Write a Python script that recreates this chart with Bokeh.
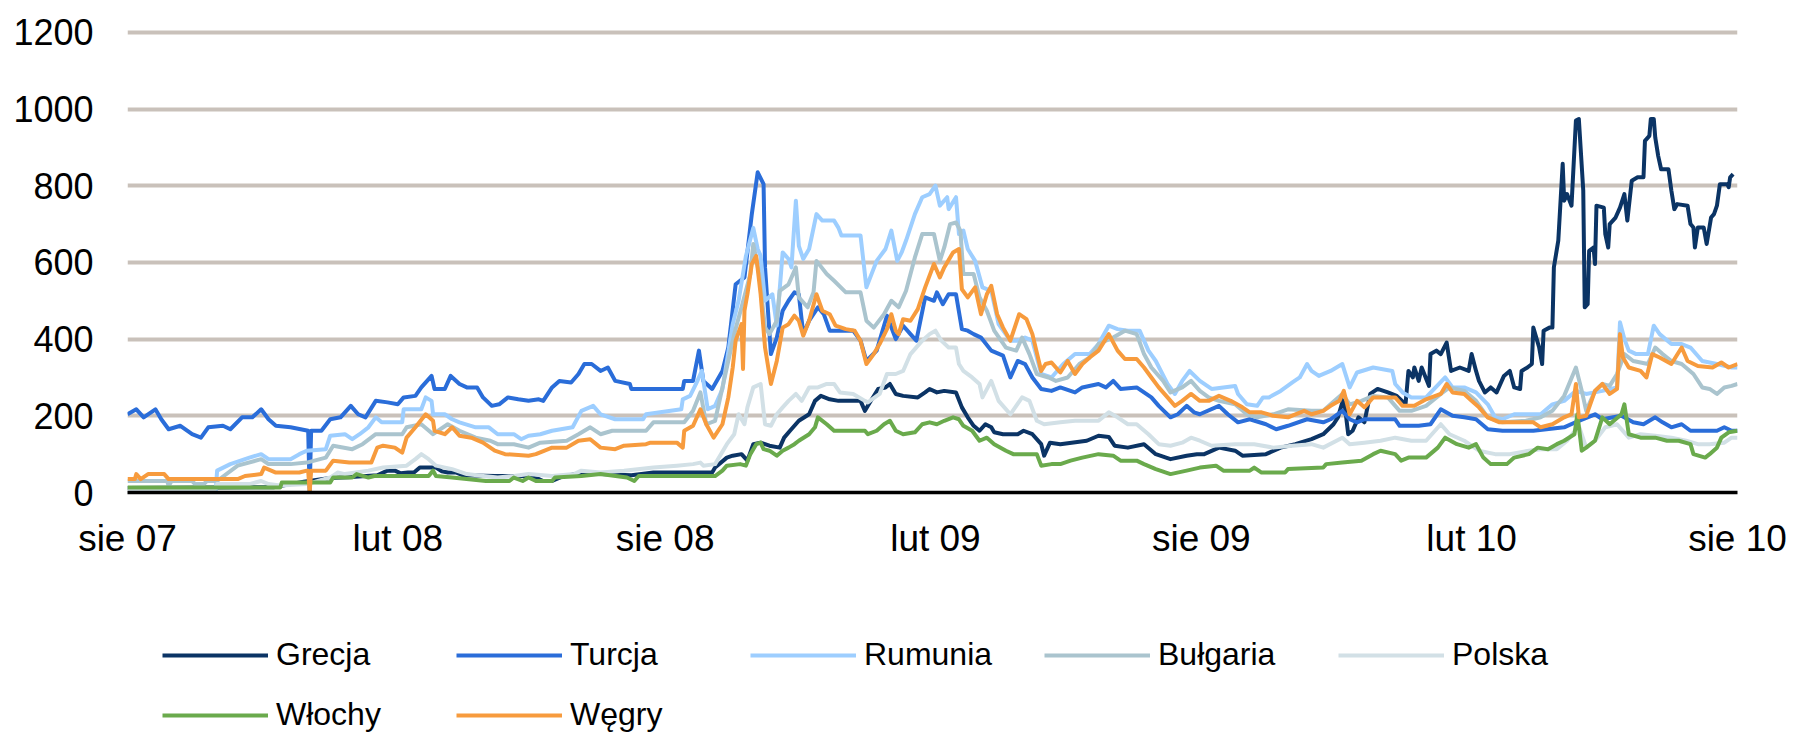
import numpy as np
import pandas as pd
from bokeh.plotting import figure
from bokeh.layouts import column
from bokeh.models import Range1d, FixedTicker, Legend, LegendItem
from bokeh.embed import file_html
from bokeh.resources import INLINE

# ---------------- data ----------------
START = "2007-08-01"
END = "2010-08-01"

tick_dates = ["2007-08-01", "2008-02-01", "2008-08-01", "2009-02-01",
              "2009-08-01", "2010-02-01", "2010-08-01"]
tick_labels = ["sie 07", "lut 08", "sie 08", "lut 09", "sie 09", "lut 10", "sie 10"]
y_ticks = [0, 200, 400, 600, 800, 1000, 1200]

series_names = ["Grecja", "Turcja", "Rumunia", "Bułgaria", "Polska", "Włochy", "Węgry"]
series_colors = ["#0B3465", "#2A6DD9", "#9DCEFF", "#AAC4CE", "#D2E0E6", "#6AAA4C", "#F79B3D"]

# (days since 2007-08-01, spread in bp)
grecja = [(0, 12), (100, 14), (120, 28), (138, 38), (150, 40), (170, 45), (177, 57), (182, 57),
          (186, 50), (191, 52), (195, 52), (199, 65), (210, 65), (214, 55), (218, 52), (224, 52),
          (228, 45), (250, 43), (270, 43), (280, 35), (283, 30), (289, 30), (295, 40), (304, 48),
          (322, 48), (343, 45), (358, 52), (371, 52), (398, 52), (400, 65), (408, 91), (412, 96),
          (418, 100), (422, 83), (426, 126), (431, 130), (437, 122), (444, 117), (447, 143),
          (451, 161), (457, 187), (464, 204), (468, 239), (472, 252), (478, 243), (484, 239),
          (499, 239), (502, 213), (504, 226), (511, 270), (516, 274), (519, 283), (523, 257),
          (528, 252), (538, 248), (543, 261), (546, 270), (551, 261), (556, 265), (564, 261),
          (568, 222), (572, 196), (576, 174), (580, 161), (584, 178), (588, 170), (590, 157),
          (596, 152), (606, 152), (610, 161), (616, 152), (622, 126), (624, 96), (628, 130),
          (635, 126), (653, 135), (661, 148), (668, 145), (672, 122), (681, 117), (692, 126),
          (700, 100), (710, 87), (721, 96), (728, 100), (733, 100), (743, 117), (754, 109),
          (759, 96), (775, 100), (785, 117), (795, 126), (806, 139), (814, 152), (821, 178),
          (824, 196), (828, 248), (831, 152), (834, 161), (838, 196), (842, 183), (846, 257),
          (851, 270), (858, 261), (864, 252), (870, 230), (872, 317), (875, 300), (876, 326),
          (879, 291), (881, 326), (886, 278), (887, 361), (891, 370), (894, 361), (898, 391),
          (901, 317), (907, 326), (913, 317), (915, 361), (918, 317), (920, 291), (924, 261),
          (928, 274), (932, 261), (937, 304), (941, 317), (944, 274), (948, 270), (949, 317),
          (953, 326), (956, 335), (957, 430), (961, 378), (963, 335), (964, 422), (968, 430),
          (970, 430), (971, 587), (974, 657), (977, 857), (978, 761), (980, 778), (983, 748),
          (986, 970), (988, 974), (991, 787), (992, 483), (994, 491), (995, 630), (998, 639),
          (999, 596), (1000, 748), (1005, 743), (1006, 674), (1008, 639), (1009, 700),
          (1013, 717), (1016, 743), (1019, 778), (1021, 709), (1024, 813), (1028, 822),
          (1032, 822), (1033, 917), (1036, 930), (1037, 974), (1039, 974), (1040, 926),
          (1042, 878), (1044, 843), (1049, 843), (1051, 787), (1053, 739), (1055, 752),
          (1062, 748), (1064, 700), (1066, 691), (1067, 639), (1069, 691), (1073, 691),
          (1075, 648), (1078, 717), (1080, 726), (1082, 748), (1084, 804), (1089, 804),
          (1090, 796), (1091, 822), (1093, 830)]

turcja = [(0, 204), (6, 217), (11, 196), (19, 217), (23, 191), (28, 165), (36, 174), (44, 152),
          (50, 143), (55, 170), (65, 174), (70, 165), (78, 196), (85, 196), (91, 217), (96, 191),
          (101, 174), (111, 170), (123, 161), (124, 0), (125, 161), (132, 161), (138, 191),
          (145, 196), (152, 226), (157, 204), (162, 196), (169, 239), (177, 235), (184, 230),
          (188, 248), (196, 252), (200, 274), (207, 304), (209, 270), (216, 270), (220, 304),
          (226, 283), (231, 274), (238, 274), (242, 248), (248, 226), (253, 230), (259, 248),
          (266, 243), (273, 239), (280, 243), (283, 239), (289, 274), (294, 291), (302, 287),
          (307, 309), (311, 335), (316, 335), (322, 317), (327, 326), (332, 291), (342, 283),
          (343, 270), (361, 270), (378, 270), (379, 291), (385, 291), (389, 370), (392, 291),
          (398, 270), (405, 317), (409, 378), (414, 543), (420, 561), (425, 726), (429, 835),
          (433, 804), (434, 587), (438, 361), (442, 404), (446, 474), (450, 500), (454, 522),
          (457, 517), (460, 413), (464, 448), (470, 483), (474, 465), (478, 422), (494, 422),
          (499, 396), (503, 343), (510, 370), (517, 461), (523, 400), (528, 435), (533, 413),
          (537, 396), (543, 509), (549, 500), (551, 522), (555, 491), (559, 517), (564, 517),
          (568, 426), (572, 422), (576, 413), (581, 404), (588, 370), (596, 357), (601, 300),
          (606, 343), (611, 335), (616, 300), (622, 270), (629, 265), (635, 274), (645, 261),
          (650, 274), (661, 283), (666, 274), (671, 291), (676, 270), (687, 274), (692, 261),
          (697, 248), (702, 226), (710, 196), (715, 204), (721, 226), (726, 209), (730, 204),
          (743, 226), (749, 204), (756, 183), (764, 191), (775, 178), (782, 165), (790, 174),
          (803, 191), (814, 183), (819, 191), (827, 213), (832, 191), (837, 183), (842, 191),
          (863, 191), (866, 174), (879, 174), (887, 178), (894, 217), (902, 200), (910, 196),
          (918, 191), (926, 165), (936, 161), (957, 161), (978, 170), (988, 187), (999, 204),
          (1004, 191), (1017, 200), (1025, 183), (1032, 178), (1040, 196), (1045, 183),
          (1051, 170), (1058, 178), (1064, 161), (1082, 161), (1087, 170), (1092, 161), (1096, 161)]

rumunia = [(60, 0), (61, 57), (70, 74), (83, 91), (91, 100), (96, 87), (111, 87), (117, 100),
           (122, 109), (135, 113), (138, 148), (148, 152), (153, 139), (158, 152), (164, 170),
           (169, 196), (173, 183), (187, 183), (188, 217), (200, 217), (203, 248), (207, 239),
           (208, 204), (216, 204), (221, 191), (226, 183), (237, 170), (246, 170), (252, 152),
           (263, 152), (268, 139), (273, 148), (281, 152), (289, 161), (303, 170), (309, 213),
           (317, 226), (322, 204), (332, 191), (351, 191), (353, 204), (377, 217), (378, 243),
           (383, 252), (387, 283), (391, 317), (395, 217), (400, 226), (405, 270), (412, 439),
           (416, 500), (421, 617), (426, 690), (429, 635), (431, 617), (434, 500), (439, 517),
           (442, 435), (446, 626), (450, 609), (452, 587), (455, 761), (457, 643), (460, 609),
           (464, 635), (469, 726), (473, 709), (481, 709), (484, 690), (486, 670), (499, 670),
           (503, 535), (510, 604), (516, 635), (520, 683), (524, 604), (527, 626), (530, 657),
           (536, 726), (541, 770), (546, 778), (550, 800), (553, 748), (558, 770), (559, 739),
           (564, 770), (566, 674), (569, 683), (572, 635), (577, 604), (582, 535), (588, 526),
           (593, 439), (601, 396), (606, 396), (611, 404), (616, 396), (622, 309), (629, 300),
           (637, 335), (645, 361), (655, 361), (661, 387), (668, 435), (674, 426), (681, 422),
           (689, 422), (695, 370), (700, 343), (708, 283), (713, 257), (718, 291), (723, 317),
           (730, 291), (733, 283), (738, 270), (754, 278), (756, 257), (762, 230), (769, 226),
           (773, 248), (777, 248), (785, 265), (793, 287), (798, 300), (803, 335), (806, 317),
           (811, 304), (819, 317), (827, 335), (832, 274), (837, 313), (848, 326), (861, 317),
           (863, 283), (868, 261), (874, 248), (884, 248), (897, 300), (902, 274), (910, 274),
           (918, 261), (926, 230), (931, 196), (936, 191), (944, 204), (962, 204), (970, 230),
           (978, 239), (986, 265), (993, 257), (1004, 265), (1014, 274), (1016, 444), (1019, 400),
           (1022, 370), (1027, 361), (1035, 361), (1039, 435), (1043, 413), (1051, 387),
           (1058, 387), (1064, 378), (1072, 343), (1082, 335), (1092, 326), (1096, 326)]

bulgaria = [(0, 30), (27, 30), (28, 17), (30, 30), (44, 30), (46, 22), (52, 22), (54, 30), (61, 30),
            (75, 70), (91, 87), (96, 74), (111, 74), (122, 78), (135, 91), (140, 122), (153, 113),
            (160, 126), (169, 152), (187, 152), (190, 170), (200, 178), (208, 152), (218, 178),
            (226, 161), (237, 143), (247, 135), (252, 126), (263, 126), (273, 117), (281, 130),
            (299, 135), (307, 152), (315, 170), (322, 152), (330, 161), (338, 161), (353, 161),
            (358, 183), (379, 183), (385, 213), (390, 261), (394, 178), (400, 187), (408, 326),
            (413, 413), (418, 483), (424, 570), (426, 648), (430, 570), (434, 430), (437, 413),
            (442, 448), (444, 526), (450, 543), (455, 587), (457, 509), (463, 483), (467, 522),
            (469, 604), (476, 570), (481, 552), (489, 522), (499, 522), (503, 448), (508, 430),
            (515, 465), (520, 500), (525, 483), (530, 526), (536, 613), (541, 674), (549, 674),
            (553, 604), (556, 639), (560, 700), (564, 704), (567, 683), (569, 570), (576, 570),
            (580, 509), (585, 474), (590, 422), (598, 378), (605, 370), (609, 404), (614, 361),
            (619, 309), (627, 300), (632, 291), (640, 300), (648, 335), (655, 352), (661, 387),
            (666, 396), (671, 404), (679, 422), (687, 413), (692, 361), (697, 326), (705, 291),
            (710, 261), (718, 274), (724, 291), (730, 265), (736, 248), (743, 239), (754, 230),
            (762, 204), (769, 196), (780, 204), (790, 217), (806, 213), (814, 213), (819, 230),
            (827, 257), (832, 230), (840, 239), (848, 252), (858, 248), (866, 213), (874, 213),
            (884, 226), (894, 257), (900, 274), (910, 265), (918, 239), (926, 196), (936, 183),
            (952, 187), (962, 196), (970, 213), (978, 252), (986, 326), (990, 265), (993, 213),
            (999, 265), (1004, 283), (1009, 278), (1014, 309), (1019, 361), (1025, 343),
            (1035, 335), (1040, 378), (1045, 361), (1051, 343), (1058, 335), (1066, 309),
            (1072, 274), (1077, 270), (1082, 257), (1087, 274), (1092, 278), (1096, 283)]

polska = [(0, 5), (59, 5), (61, 22), (83, 22), (91, 30), (96, 22), (104, 18), (122, 22), (138, 39),
          (143, 52), (148, 48), (164, 57), (174, 65), (190, 70), (196, 87), (200, 100), (205, 87),
          (210, 70), (221, 61), (231, 48), (242, 43), (252, 39), (263, 43), (273, 48), (289, 43),
          (304, 48), (309, 57), (322, 52), (338, 57), (358, 65), (374, 70), (385, 74), (390, 78),
          (392, 70), (400, 74), (408, 126), (413, 152), (416, 204), (420, 178), (422, 222),
          (426, 274), (431, 283), (434, 178), (438, 174), (442, 204), (446, 222), (450, 239),
          (455, 257), (459, 239), (464, 274), (470, 274), (476, 283), (481, 283), (485, 261),
          (494, 257), (502, 239), (504, 235), (512, 257), (517, 309), (523, 309), (528, 317),
          (533, 361), (541, 396), (546, 413), (550, 422), (554, 396), (559, 378), (564, 378),
          (566, 335), (569, 317), (575, 300), (580, 283), (582, 248), (588, 291), (593, 239),
          (601, 204), (609, 248), (614, 239), (619, 187), (624, 178), (635, 183), (645, 187),
          (661, 187), (668, 209), (674, 196), (681, 178), (687, 178), (695, 152), (702, 126),
          (710, 122), (718, 130), (724, 143), (730, 135), (738, 122), (754, 126), (767, 126),
          (780, 117), (793, 122), (806, 126), (814, 117), (827, 143), (832, 126), (842, 130),
          (853, 135), (863, 143), (874, 135), (884, 135), (894, 178), (900, 152), (910, 135),
          (920, 109), (931, 100), (941, 100), (954, 109), (962, 113), (973, 113), (980, 135),
          (988, 174), (993, 117), (999, 135), (1006, 170), (1014, 178), (1022, 143), (1030, 152),
          (1040, 148), (1051, 143), (1061, 135), (1069, 126), (1077, 126), (1087, 130),
          (1092, 143), (1096, 143)]

wlochy = [(0, 13), (104, 13), (105, 26), (138, 26), (140, 39), (153, 39), (156, 48), (164, 39),
          (168, 43), (205, 43), (208, 57), (210, 43), (221, 39), (244, 30), (260, 30), (263, 39),
          (269, 30), (273, 39), (278, 30), (289, 30), (291, 39), (309, 43), (322, 48), (340, 39),
          (345, 30), (348, 43), (400, 43), (405, 57), (408, 70), (417, 74), (421, 70), (424, 100),
          (428, 126), (431, 130), (433, 113), (437, 109), (442, 96), (446, 109), (450, 117),
          (454, 126), (457, 135), (464, 152), (468, 170), (470, 196), (476, 178), (481, 161),
          (502, 161), (504, 152), (510, 161), (515, 178), (519, 187), (523, 161), (528, 152),
          (536, 157), (541, 178), (546, 183), (551, 178), (556, 187), (562, 196), (566, 191),
          (569, 174), (575, 161), (580, 135), (585, 143), (590, 126), (598, 109), (603, 100),
          (619, 100), (622, 70), (629, 74), (635, 74), (642, 83), (650, 91), (661, 100), (671, 96),
          (676, 83), (687, 83), (692, 74), (700, 61), (710, 48), (721, 57), (730, 65), (741, 70),
          (746, 57), (764, 57), (767, 65), (772, 52), (788, 52), (790, 61), (814, 65), (816, 74),
          (827, 78), (840, 83), (848, 100), (853, 109), (863, 100), (867, 83), (872, 91),
          (884, 91), (892, 117), (897, 143), (905, 126), (913, 117), (918, 126), (923, 91),
          (928, 74), (939, 74), (944, 91), (954, 100), (960, 117), (967, 113), (973, 126),
          (978, 135), (985, 152), (987, 204), (990, 109), (993, 117), (999, 135), (1004, 196),
          (1009, 178), (1017, 204), (1019, 230), (1022, 152), (1030, 143), (1040, 143),
          (1048, 135), (1056, 135), (1064, 126), (1066, 100), (1074, 91), (1077, 100),
          (1082, 117), (1085, 143), (1090, 157), (1096, 161)]

wegry = [(0, 35), (5, 35), (6, 48), (9, 35), (14, 48), (25, 48), (28, 35), (75, 35), (80, 43),
         (91, 48), (93, 65), (101, 52), (117, 52), (122, 57), (123, 57), (124, 0), (125, 57),
         (135, 57), (140, 83), (151, 78), (166, 78), (170, 117), (174, 122), (182, 117),
         (187, 104), (190, 143), (196, 170), (203, 204), (208, 187), (209, 161), (216, 152),
         (221, 170), (226, 148), (234, 143), (242, 130), (250, 109), (257, 100), (273, 96),
         (278, 100), (289, 117), (299, 117), (307, 135), (315, 139), (322, 117), (332, 113),
         (338, 122), (353, 126), (356, 130), (374, 130), (378, 117), (379, 161), (385, 174),
         (390, 217), (394, 178), (399, 143), (405, 178), (409, 248), (412, 326), (414, 396),
         (418, 439), (419, 322), (420, 474), (422, 517), (425, 596), (428, 617), (431, 517),
         (434, 378), (438, 283), (442, 343), (446, 430), (450, 439), (454, 461), (457, 448),
         (460, 409), (464, 448), (469, 517), (473, 474), (478, 465), (482, 435), (489, 426),
         (495, 422), (499, 396), (503, 335), (508, 361), (512, 387), (517, 426), (520, 465),
         (523, 422), (525, 413), (528, 452), (533, 448), (538, 478), (543, 535), (549, 596),
         (553, 561), (556, 587), (562, 626), (566, 635), (568, 530), (572, 509), (577, 535),
         (581, 465), (585, 517), (588, 539), (592, 465), (596, 430), (601, 396), (607, 465),
         (612, 452), (616, 413), (622, 317), (625, 335), (629, 339), (635, 313), (640, 343),
         (645, 309), (650, 335), (655, 352), (661, 370), (668, 413), (674, 370), (679, 348),
         (687, 348), (692, 326), (697, 300), (702, 274), (708, 248), (713, 226), (718, 239),
         (724, 257), (730, 239), (736, 239), (743, 252), (751, 239), (759, 222), (764, 209),
         (772, 209), (780, 200), (790, 196), (801, 213), (806, 204), (814, 213), (819, 226),
         (825, 239), (828, 265), (832, 204), (837, 239), (842, 222), (848, 248), (863, 248),
         (868, 226), (876, 226), (884, 243), (894, 257), (898, 283), (902, 261), (910, 257),
         (915, 239), (920, 222), (926, 196), (934, 183), (957, 183), (962, 170), (970, 178),
         (978, 196), (983, 204), (986, 283), (988, 196), (993, 200), (999, 265), (1004, 283),
         (1009, 257), (1014, 270), (1016, 413), (1018, 352), (1022, 326), (1030, 317),
         (1034, 300), (1038, 361), (1043, 352), (1051, 335), (1058, 378), (1062, 343),
         (1069, 330), (1079, 326), (1085, 339), (1090, 326), (1096, 335)]

series_data = [grecja, turcja, rumunia, bulgaria, polska, wlochy, wegry]

# ---------------- figure ----------------
FONT = "Liberation Sans, Arial, sans-serif"
start_ts = pd.Timestamp(START)


def to_dates(days):
    return start_ts + pd.to_timedelta(np.asarray(days, dtype=float), unit="D")


p = figure(width=1796, height=600, x_axis_type="datetime",
           x_range=Range1d(pd.Timestamp(START), pd.Timestamp(END)),
           y_range=Range1d(0, 1210),
           output_backend="svg", toolbar_location=None,
           min_border_left=127, min_border_right=59,
           min_border_top=28, min_border_bottom=108)
p.outline_line_color = None
p.background_fill_color = "white"
p.border_fill_color = "white"

p.xgrid.visible = False
p.ygrid.ticker = FixedTicker(ticks=y_ticks)
p.ygrid.grid_line_color = "#C9C1BA"
p.ygrid.grid_line_width = 4

p.yaxis.ticker = FixedTicker(ticks=y_ticks)
p.yaxis.axis_line_color = None
p.yaxis.major_tick_line_color = None
p.yaxis.minor_tick_line_color = None
p.yaxis.major_tick_out = 0
p.yaxis.major_tick_in = 0
p.yaxis.minor_tick_out = 0
p.yaxis.major_label_standoff = 34
p.yaxis.major_label_text_font = FONT
p.yaxis.major_label_text_font_size = "36px"
p.yaxis.major_label_text_color = "black"

tick_ms = [pd.Timestamp(t).value / 1e6 for t in tick_dates]
p.xaxis.ticker = FixedTicker(ticks=tick_ms)
p.xaxis.major_label_overrides = {ms: lab for ms, lab in zip(tick_ms, tick_labels)}
p.xaxis.axis_line_color = "black"
p.xaxis.axis_line_width = 3.5
p.xaxis.major_tick_line_color = None
p.xaxis.minor_tick_line_color = None
p.xaxis.major_tick_out = 0
p.xaxis.major_tick_in = 0
p.xaxis.minor_tick_out = 0
p.xaxis.major_label_standoff = 25
p.xaxis.major_label_text_font = FONT
p.xaxis.major_label_text_font_size = "37px"
p.xaxis.major_label_text_color = "black"

for name, color, data in zip(series_names, series_colors, series_data):
    days, vals = zip(*data)
    p.line(to_dates(days), list(vals), line_color=color, line_width=4, line_join="round")

# ---------------- legend strip (same series, view window shows none of the data) ----------------
lg = figure(width=1796, height=133, x_range=Range1d(0, 1), y_range=Range1d(0, 1),
            x_axis_location=None, y_axis_location=None,
            output_backend="svg", toolbar_location=None,
            min_border_left=0, min_border_right=0, min_border_top=0, min_border_bottom=0)
lg.outline_line_color = None
lg.grid.visible = False
lg.background_fill_color = "white"
lg.border_fill_color = "white"

items = []
for name, color, data in zip(series_names, series_colors, series_data):
    days, vals = zip(*data)
    r = lg.line(to_dates(days), list(vals), line_color=color, line_width=4)
    items.append(LegendItem(label=name, renderers=[r]))

legend = Legend(items=items, location=(35, 0), orientation="horizontal", ncols=5,
                padding=0, margin=0, spacing=23,
                glyph_width=106, glyph_height=36, label_height=36, label_width=157,
                label_standoff=8,
                label_text_font=FONT, label_text_font_size="32px",
                label_text_color="black",
                background_fill_alpha=0, border_line_color=None)
lg.add_layout(legend)

layout = column(p, lg, spacing=0)
open("out.html", "w").write(file_html(layout, INLINE))
